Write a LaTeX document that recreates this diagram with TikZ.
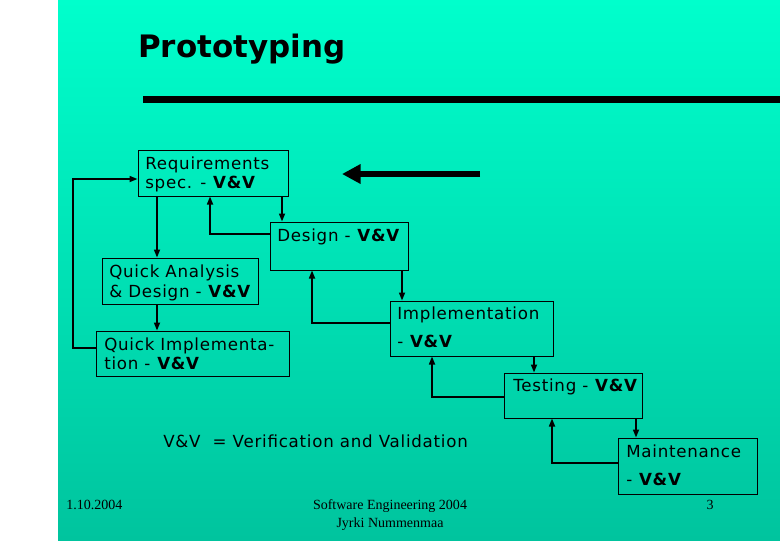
\documentclass[tikz,border=0pt]{standalone}
\usepackage{fontspec}
\setmainfont[LetterSpace=4.5]{DejaVu Sans}
\newfontfamily\titlefont{DejaVu Sans}
\newfontfamily\footfont{Liberation Serif}
\usetikzlibrary{arrows.meta}
\definecolor{bgtop}{HTML}{00FFCC}
\definecolor{bgbot}{HTML}{00C49E}
\tikzset{
  box/.style={draw=black, line width=0.75pt, rectangle, inner sep=0pt, fill=none},
  txt/.style={anchor=base west, inner sep=0pt, font=\fontsize{12.5}{15}\selectfont},
  conn/.style={draw=black, line width=1.2pt, -{Triangle[length=6pt,width=4.5pt]}},
  bigarrow/.style={draw=black, line width=5pt, -{Triangle[length=14pt,width=14pt]}},
  foot/.style={inner sep=0pt, font=\footfont\fontsize{10.5}{13}\selectfont}
}
\begin{document}
\begin{tikzpicture}[x=0.75pt,y=-0.75pt]
\useasboundingbox (0,0) rectangle (780,540);
\fill[white] (0,0) rectangle (58,540);
\shade[top color=bgtop, bottom color=bgbot] (58,0) rectangle (780,540);

% title and rule
\node[anchor=base west, inner sep=0pt, font=\titlefont\bfseries\fontsize{23.2}{28}\selectfont] (title) at (138,57) {Prototyping};
\coordinate (ruleA) at (143,99.5);
\coordinate (ruleB) at (780,99.5);
\draw[line width=5.25pt] (ruleA) -- (ruleB);

% big arrow
\coordinate (bigA) at (480,174);
\coordinate (bigB) at (342,174);
\draw[bigarrow] (bigA) -- (bigB);

% boxes
\node[box, minimum width=112.5pt, minimum height=34.5pt] (req) at (213,173) {};
\node[box, minimum width=103.5pt, minimum height=36pt] (des) at (339,246) {};
\node[box, minimum width=117pt, minimum height=34.5pt] (qa) at (180,281) {};
\node[box, minimum width=144.75pt, minimum height=33.75pt] (qi) at (192.5,353.5) {};
\node[box, minimum width=122.25pt, minimum height=41.25pt] (impl) at (471.5,328.5) {};
\node[box, minimum width=103.5pt, minimum height=33.75pt] (test) at (573,395.5) {};
\node[box, minimum width=104.25pt, minimum height=42pt] (maint) at (687.5,466) {};

% box texts
\node[txt] (reqA) at (145,169) {Requirements};
\node[txt] (reqB) at (145,188) {spec. - \textbf{V\&V}};
\node[txt] (desA) at (277,241) {Design - \textbf{V\&V}};
\node[txt] (qaA) at (109,277) {Quick Analysis};
\node[txt] (qaB) at (109,297) {\& Design - \textbf{V\&V}};
\node[txt] (qiA) at (104,350) {Quick Implementa-};
\node[txt] (qiB) at (104,369) {tion - \textbf{V\&V}};
\node[txt] (implA) at (397,319) {Implementation};
\node[txt] (implB) at (397,347) {- \textbf{V\&V}};
\node[txt] (testA) at (513,391) {Testing - \textbf{V\&V}};
\node[txt] (maintA) at (626,457) {Maintenance};
\node[txt] (maintB) at (626,485) {- \textbf{V\&V}};

% helper coordinates
\coordinate (c157) at (157,0);
\coordinate (c282) at (282,0);
\coordinate (c210) at (210,0);
\coordinate (c73) at (73,0);
\coordinate (c402) at (402,0);
\coordinate (c312) at (312,0);
\coordinate (c534) at (534,0);
\coordinate (c432) at (432,0);
\coordinate (c636) at (636,0);
\coordinate (c552) at (552,0);
\coordinate (r234) at (0,234);
\coordinate (r348) at (0,348);
\coordinate (r179) at (0,179);
\coordinate (r323) at (0,323);
\coordinate (r397) at (0,397);
\coordinate (r463) at (0,463);

% connectors
\draw[conn] (req.south -| c157) -- (qa.north -| c157);
\draw[conn] (req.south -| c282) -- (des.north -| c282);
\draw[conn] (des.west |- r234) -| (req.south -| c210);
\draw[conn] (qa.south -| c157) -- (qi.north -| c157);
\draw[conn] (qi.west |- r348) -| (c73 |- r179) -- (req.west |- r179);
\draw[conn] (des.south -| c402) -- (impl.north -| c402);
\draw[conn] (impl.west |- r323) -| (des.south -| c312);
\draw[conn] (impl.south -| c534) -- (test.north -| c534);
\draw[conn] (test.west |- r397) -| (impl.south -| c432);
\draw[conn] (test.south -| c636) -- (maint.north -| c636);
\draw[conn] (maint.west |- r463) -| (test.south -| c552);

% legend
\node[anchor=base west, inner sep=0pt, font=\fontsize{12.5}{16}\selectfont] (legend) at (163,447) {V\&V\ \ = Verification and Validation};

% footer
\node[foot, anchor=base west] (date) at (66,509) {1.10.2004};
\node[foot, anchor=base] (course) at (390,509) {Software Engineering 2004};
\node[foot, anchor=base] (author) at (390,527) {Jyrki Nummenmaa};
\node[foot, anchor=base] (page) at (710,509) {3};
\end{tikzpicture}
\end{document}
